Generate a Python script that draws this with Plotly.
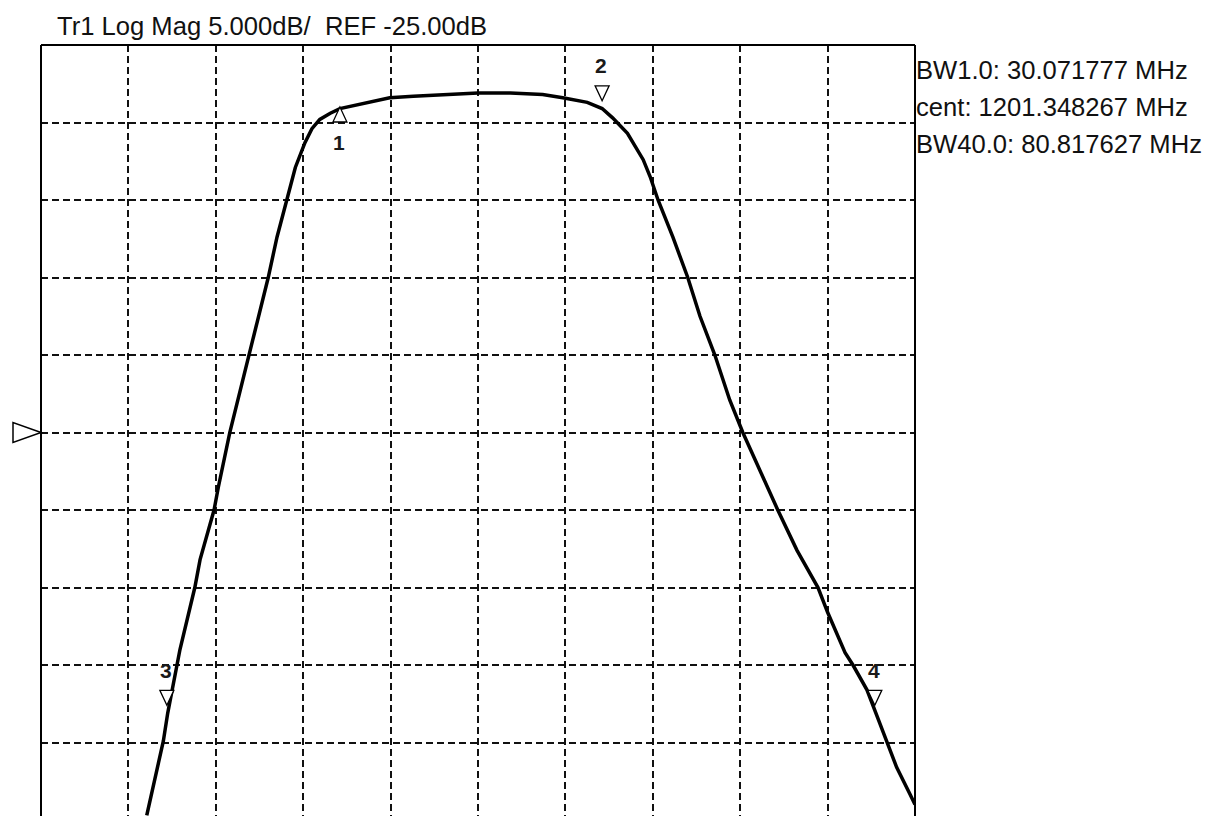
import plotly.graph_objects as go

# Trace data (frequency in MHz, magnitude in dB)
freq_mhz = [1164.1, 1166.0, 1166.5, 1167.6, 1167.9, 1169.6, 1170.2, 1171.8, 1172.3, 1173.6,
            1175.8, 1176.6, 1178.0, 1179.0, 1180.1, 1181.1, 1182.2, 1183.0, 1183.9, 1185.1,
            1186.2, 1187.9, 1189.3, 1191.9, 1194.6, 1198.0, 1202.0, 1205.7, 1209.4, 1211.7,
            1214.5, 1216.2, 1217.4, 1219.1, 1220.9, 1221.7, 1222.6, 1224.3, 1226.0, 1227.4,
            1229.1, 1230.8, 1232.3, 1233.9, 1236.3, 1238.5, 1240.9, 1242.0, 1244.0, 1244.9,
            1246.5, 1247.8, 1248.8, 1249.9, 1251.4, 1252.0]
mag_db = [-49.7, -44.9, -43.1, -40.0, -39.0, -35.0, -33.2, -30.0, -28.5, -25.0,
          -20.0, -18.4, -15.0, -12.4, -10.0, -7.9, -6.3, -5.4, -4.8, -4.4,
          -4.1, -3.9, -3.7, -3.4, -3.3, -3.2, -3.1, -3.1, -3.2, -3.4,
          -3.7, -4.1, -4.7, -5.7, -7.4, -8.5, -10.0, -12.4, -15.0, -17.5,
          -20.0, -22.9, -25.0, -27.0, -30.0, -32.6, -35.0, -36.6, -39.2, -40.0,
          -41.6, -43.5, -45.0, -46.6, -48.3, -49.0]

# Markers
marker_names = ["1", "2", "3", "4"]
marker_freq = [1186.2, 1216.2, 1166.4, 1247.4]
marker_db = [-4.0, -3.6, -42.6, -42.6]
marker_dir = ["up", "down", "down", "down"]

# Axis settings
f_start, f_stop = 1152.0, 1252.0
db_top, db_per_div = 0.0, 5.0
ref_db = -25.0
db_bottom = -49.74

title_text = "Tr1 Log Mag 5.000dB/  REF -25.00dB"
info_lines = ["BW1.0: 30.071777 MHz", "cent: 1201.348267 MHz", "BW40.0: 80.817627 MHz"]

FONT = "Liberation Sans, Arial, sans-serif"

fig = go.Figure()
fig.add_trace(go.Scatter(x=freq_mhz, y=mag_db, mode="lines",
                         line=dict(color="black", width=3.5), hoverinfo="skip",
                         showlegend=False))

W, H = 1208, 816
ml, mt = 41, 45
mr = W - 915
mb = 0
ph = H - mt - mb
pw = W - ml - mr

fig.update_layout(
    width=W, height=H,
    margin=dict(l=ml, r=mr, t=mt, b=mb, pad=0),
    paper_bgcolor="white", plot_bgcolor="white",
    showlegend=False,
    xaxis=dict(range=[f_start, f_stop], tick0=f_start, dtick=10, showgrid=True,
               gridcolor="#111", gridwidth=1.8, griddash="7px,4px",
               showticklabels=False, ticks="", zeroline=False, showline=False),
    yaxis=dict(range=[db_bottom, db_top], tick0=0, dtick=db_per_div, showgrid=True,
               gridcolor="#111", gridwidth=1.8, griddash="7px,4px",
               showticklabels=False, ticks="", zeroline=False, showline=False),
)

shapes = []
# frame: left, top, right
for x0, y0, x1, y1 in [(0, 0, 0, 1), (0, 1, 1, 1), (1, 0, 1, 1)]:
    shapes.append(dict(type="line", xref="paper", yref="paper", x0=x0, y0=y0, x1=x1, y1=y1,
                       line=dict(color="black", width=2)))

# marker triangles
for name, f, d, direc in zip(marker_names, marker_freq, marker_db, marker_dir):
    if direc == "up":
        path = "M 0,0 L -7,-15 L 7,-15 Z"
        shift = -35
    else:
        path = "M 0,0 L -7,15 L 7,15 Z"
        shift = 35
    shapes.append(dict(type="path", xref="x", yref="y", xsizemode="pixel", ysizemode="pixel",
                       xanchor=f, yanchor=d, path=path,
                       line=dict(color="black", width=1.3), fillcolor="white", layer="above"))
    fig.add_annotation(x=f, y=d, xref="x", yref="y", text=f"<b>{name}</b>", showarrow=False,
                       yshift=shift, xshift=-1, font=dict(family=FONT, size=21, color="#1a1a1a"))

# reference level triangle on left
shapes.append(dict(type="path", xref="paper", yref="y", xsizemode="pixel", ysizemode="pixel",
                   xanchor=0, yanchor=ref_db, path="M 0,0 L -28,10 L -28,-10 Z",
                   line=dict(color="black", width=1.5), fillcolor="white", layer="above"))
fig.update_layout(shapes=shapes)

# title
fig.add_annotation(x=(55 - 41) / pw, y=1 + (45 - 26) / ph, xref="paper", yref="paper",
                   xanchor="left", yanchor="middle", text=title_text, showarrow=False,
                   font=dict(family=FONT, size=25.6, color="#111"))

# info text on right
for i, line in enumerate(info_lines):
    ypx = 70 + 37 * i
    fig.add_annotation(x=(914 - 41) / pw, y=1 - (ypx - 45) / ph, xref="paper", yref="paper",
                       xanchor="left", yanchor="middle", text=line, showarrow=False,
                       font=dict(family=FONT, size=25.6, color="#111"))

fig.write_html("out.html", config={"displayModeBar": False},
               post_script="document.body.style.margin='0';document.body.style.overflow='hidden';")
